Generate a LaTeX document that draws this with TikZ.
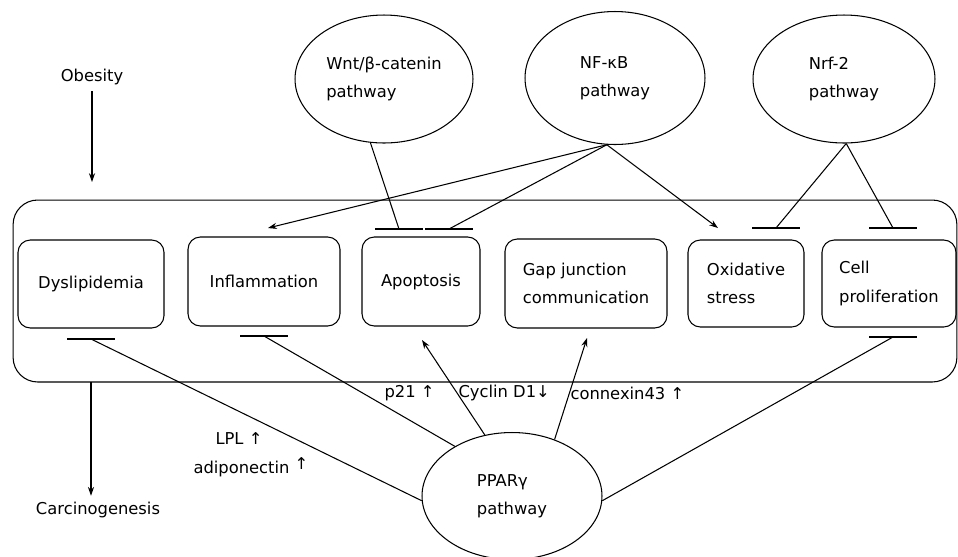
\documentclass[tikz,border=0pt]{standalone}
\usepackage{fontspec}
\setmainfont{DejaVu Sans}
\usetikzlibrary{shapes.geometric,arrows.meta,calc}

\tikzset{
  process/.style={draw, rounded corners=7pt, align=left, inner sep=0pt},
  pathway/.style={draw, ellipse, align=left, inner sep=0pt},
  lbl/.style={inner sep=0pt, anchor=west},
  >={Stealth[length=5pt,width=3.5pt]}
}
\newcommand{\tbar}[1]{\draw ($(#1)+(-24,0)$) -- ($(#1)+(24,0)$);}

\begin{document}
\begin{tikzpicture}[x=0.02cm, y=-0.02cm, font=\fontsize{9.3}{16}\selectfont, line width=0.6pt]
    \useasboundingbox (0,0) rectangle (958,556);
    % Cell compartment
    \node[draw, rounded corners=14pt, minimum width=18.88cm, minimum height=3.64cm] (cell) at (485,291) {};
    % Obesity and carcinogenesis
    \node (obesity) at (92,77) {Obesity};
    \node (carc) at (98,510) {Carcinogenesis};
    \coordinate (obesityend) at (92,182);
    \coordinate (carcstart) at (91,382);
    \draw[->] (obesity) -- (obesityend);
    \draw[->] (carcstart) -- (carcstart |- carc.north);
    % Processes
    \node[process, minimum width=2.92cm, minimum height=1.76cm] (dys) at (91,284) {Dyslipidemia};
    \node[process, minimum width=3.04cm, minimum height=1.78cm] (infl) at (264,281.5) {Inflammation};
    \node[process, minimum width=2.36cm, minimum height=1.78cm] (apop) at (421,281.5) {Apoptosis};
    \node[process, minimum width=3.24cm, minimum height=1.78cm] (gap) at (586,283.5) {Gap junction\\communication};
    \node[process, minimum width=2.32cm, minimum height=1.74cm] (oxid) at (746,283.5) {Oxidative\\stress};
    \node[process, minimum width=2.68cm, minimum height=1.74cm] (prolif) at (889,283.5) {Cell\\proliferation};
    % Pathways
    \node[pathway, minimum width=3.56cm, minimum height=2.56cm] (wnt) at (384,79) {Wnt/β-catenin\\pathway};
    \node[pathway, minimum width=3.6cm, minimum height=2.66cm] (nfkb) at (615,78) {NF-κB\\pathway};
    \node[pathway, minimum width=3.64cm, minimum height=2.56cm] (nrf) at (844,79) {Nrf-2\\pathway};
    \node[pathway, minimum width=3.6cm, minimum height=2.54cm] (ppar) at (512,496) {PPARγ\\pathway};
    % Inhibition bars and arrow tips
    \coordinate (wntbar) at (399,229);
    \coordinate (nfkbbar) at (449,229);
    \coordinate (nrfbar1) at (776,228);
    \coordinate (nrfbar2) at (893,228);
    \coordinate (dysbar) at (91,339);
    \coordinate (inflbar) at (264,336);
    \coordinate (prolifbar) at (893,337);
    \coordinate (infltip) at (268,228);
    \coordinate (oxidtip) at (718,228);
    \coordinate (apoptip) at (422,340);
    \coordinate (gaptip) at (587,338);
    % Upper pathways
    \draw (wnt.258) -- (wntbar);
    \draw (nfkb.263) -- (nfkbbar);
    \draw[->] (nfkb.263) -- (infltip);
    \draw[->] (nfkb.263) -- (oxidtip);
    \draw (nrf.272) -- (nrfbar1);
    \draw (nrf.272) -- (nrfbar2);
    % PPARgamma
    \draw (ppar.183) -- (dysbar);
    \draw (ppar.139) -- (inflbar);
    \draw[->] (ppar.114) -- (apoptip);
    \draw[->] (ppar.53) -- (gaptip);
    \draw (ppar.357) -- (prolifbar);
    \foreach \b in {wntbar,nfkbbar,nrfbar1,nrfbar2,dysbar,inflbar,prolifbar} {\tbar{\b}}
    % Labels
    \node[lbl] (p21) at (384,393) {p21 ↑};
    \node[lbl] (cyclin) at (458,393) {Cyclin D1↓};
    \node[lbl] (cx43) at (570,393) {connexin43 ↑};
    \node[lbl] (lpl) at (215,439) {LPL ↑};
    \node[lbl] (adipo) at (193,467) {adiponectin \raisebox{2pt}{↑}};
\end{tikzpicture}
\end{document}
